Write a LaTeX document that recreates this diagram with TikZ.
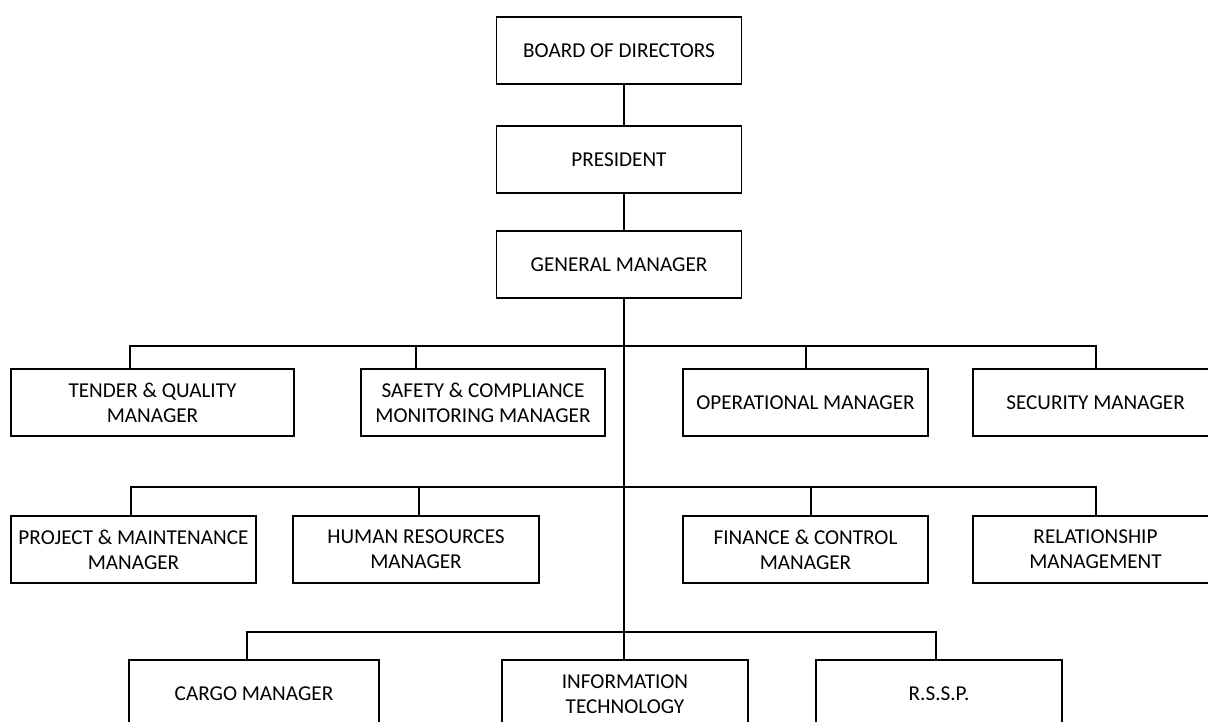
\documentclass[tikz,border=0pt]{standalone}
\usepackage{fontspec}
\setmainfont{Carlito}

\begin{document}
\begin{tikzpicture}[x=1pt, y=-1pt,
      box/.style={draw=black, line width=1.3pt, fill=white,
                  minimum width=245pt, minimum height=67pt, align=center,
                  font=\fontsize{21.2}{25}\selectfont, inner sep=2pt},
      link/.style={draw=black, line width=1.3pt}]

    \useasboundingbox (0,0) rectangle (1208,722);
    \clip (0,0) rectangle (1208,722);
    \fill[white] (0,0) rectangle (1208,722);

    % top of the chart
    \node[box] (board) at (619,50.5)  {BOARD OF DIRECTORS};
    \node[box] (pres)  at (619,159.5) {PRESIDENT};
    \node[box] (gm)    at (619,264.5) {GENERAL MANAGER};

    % bus lines under the general manager
    \coordinate (b1) at (624,346);
    \coordinate (b2) at (624,487);
    \coordinate (b3) at (624,632);

    \draw[link] (board.south -| b1) -- (pres.north -| b1);
    \draw[link] (pres.south -| b1) -- (gm.north -| b1);
    \draw[link] (gm.south -| b1) -- (b3);

    % first row
    \node[box, minimum width=283pt] (tender) at (152.5,402.5) {TENDER \& QUALITY\\MANAGER};
    \node[box, minimum width=244pt] (safety) at (483,402.5)   {SAFETY \& COMPLIANCE\\MONITORING MANAGER};
    \node[box] (oper)  at (805.5,402.5)  {OPERATIONAL MANAGER};
    \node[box] (secur) at (1095.5,402.5) {SECURITY MANAGER};

    % second row
    \node[box] (project)  at (133.5,549.5)  {PROJECT \& MAINTENANCE\\MANAGER};
    \node[box, minimum width=246pt] (hr) at (416,549.5) {HUMAN RESOURCES\\MANAGER};
    \node[box] (finance)  at (805.5,549.5)  {FINANCE \& CONTROL\\MANAGER};
    \node[box] (relation) at (1095.5,549.5) {RELATIONSHIP\\MANAGEMENT};

    % third row
    \node[box, minimum width=250pt, minimum height=68pt] (cargo) at (254,694) {CARGO MANAGER};
    \node[box, minimum width=246pt, minimum height=68pt] (it)    at (625,694) {INFORMATION\\TECHNOLOGY};
    \node[box, minimum width=246pt, minimum height=68pt] (rssp)  at (939,694) {R.S.S.P.};

    \foreach \n/\x in {tender/130, safety/416, oper/806, secur/1096}
      \draw[link] (\n.north -| \x,0) |- (b1);
    \foreach \n/\x in {project/131, hr/419, finance/811, relation/1096}
      \draw[link] (\n.north -| \x,0) |- (b2);
    \foreach \n/\x in {cargo/247, it/624, rssp/936}
      \draw[link] (\n.north -| \x,0) |- (b3);
  \end{tikzpicture}
\end{document}
